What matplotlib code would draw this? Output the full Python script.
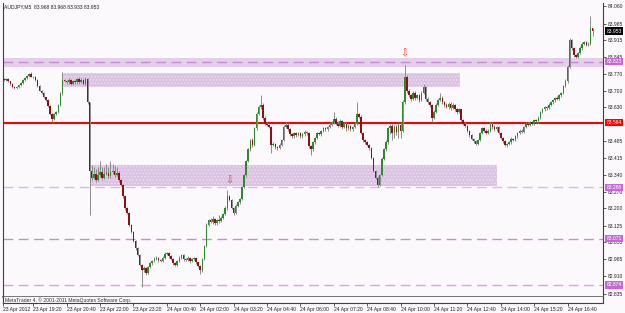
import matplotlib
matplotlib.use("Agg")
import matplotlib.pyplot as plt
import numpy as np
from matplotlib.patches import Rectangle

# ---------------- data ----------------
closes = [
 83.745, 83.750, 83.740, 83.728, 83.716, 83.711, 83.716, 83.724, 83.733, 83.745,
 83.754, 83.762, 83.771, 83.760, 83.758, 83.745, 83.720, 83.700, 83.690, 83.672,
 83.660, 83.635, 83.600, 83.580, 83.600, 83.610, 83.640, 83.690, 83.745, 83.740,
 83.735, 83.745, 83.730, 83.740, 83.735, 83.750, 83.738, 83.745, 83.730, 83.750,
 83.650, 83.360, 83.330, 83.345, 83.320, 83.340, 83.355, 83.330, 83.345, 83.350,
 83.335, 83.355, 83.360, 83.340, 83.350, 83.320, 83.300, 83.250, 83.200, 83.180,
 83.130, 83.100, 83.060, 83.030, 83.000, 82.960, 82.935, 82.945, 82.925, 82.950,
 82.965, 82.975, 82.985, 82.990, 82.980, 82.975, 82.990, 83.005, 83.010, 82.995,
 82.985, 82.965, 82.960, 82.975, 82.990, 83.000, 82.985, 82.980, 82.990, 82.975,
 82.985, 82.990, 82.970, 82.955, 82.935, 82.985, 83.040, 83.130, 83.150, 83.140,
 83.155, 83.135, 83.150, 83.145, 83.160, 83.175, 83.200, 83.250, 83.235, 83.200,
 83.180, 83.210, 83.225, 83.240, 83.290, 83.340, 83.400, 83.450, 83.490, 83.470,
 83.540, 83.600, 83.630, 83.640, 83.585, 83.560, 83.555, 83.545, 83.470, 83.475,
 83.460, 83.455, 83.470, 83.490, 83.545, 83.555, 83.535, 83.515, 83.505, 83.520,
 83.510, 83.520, 83.505, 83.515, 83.525, 83.520, 83.465, 83.450, 83.480, 83.500,
 83.520, 83.515, 83.530, 83.540, 83.535, 83.545, 83.555, 83.565, 83.580, 83.560,
 83.550, 83.570, 83.545, 83.560, 83.540, 83.550, 83.535, 83.545, 83.560, 83.600,
 83.590, 83.520, 83.490, 83.480, 83.470, 83.455, 83.415, 83.360, 83.330, 83.300,
 83.340, 83.410, 83.450, 83.480, 83.540, 83.550, 83.520, 83.545, 83.525, 83.555,
 83.530, 83.650, 83.760, 83.700, 83.680, 83.665, 83.690, 83.670, 83.680, 83.660,
 83.690, 83.715, 83.665, 83.650, 83.640, 83.585, 83.610, 83.640, 83.660, 83.670,
 83.650, 83.640, 83.630, 83.645, 83.625, 83.640, 83.620, 83.610, 83.620, 83.575,
 83.560, 83.550, 83.530, 83.510, 83.495, 83.485, 83.475, 83.490, 83.520, 83.540,
 83.530, 83.520, 83.530, 83.560, 83.545, 83.535, 83.545, 83.520, 83.500, 83.485,
 83.470, 83.475, 83.480, 83.495, 83.490, 83.505, 83.520, 83.530, 83.525, 83.545,
 83.560, 83.555, 83.565, 83.560, 83.575, 83.570, 83.585, 83.610, 83.620, 83.630,
 83.625, 83.640, 83.650, 83.660, 83.670, 83.665, 83.680, 83.690, 83.720, 83.740,
 83.800, 83.915, 83.880, 83.850, 83.845, 83.860, 83.880, 83.900, 83.905, 83.895,
 83.900, 83.968, 83.953,
]
first_open = 83.750

# upper / lower wick lengths in units of 0.001
wick_up = [
 3,3,4,3,3,2,3,3,3,4, 3,4,5,8,3,3,3,3,3,3, 3,4,3,3,4,3,5,4,34,6, 5,8,6,4,7,5,6,8,5,6,
 4,3,25,30,20,35,45,20,30,40, 25,45,30,20,25,10,5,3,4,3, 3,4,3,3,4,5,3,8,3,6, 5,4,6,5,4,3,6,8,5,4,
 4,3,6,5,7,5,3,4,6,3, 5,4,3,3,3,5,4,5,6,8, 10,5,6,20,6,5,8,28,6,4, 5,8,6,4,6,5,6,8,4,8,
 6,8,10,40,8,6,5,4,3,5, 4,3,6,5,8,10,6,5,4,6, 5,6,5,4,6,5,3,3,5,4, 6,5,4,5,4,5,6,5,30,6,
 10,8,6,5,8,6,5,6,8,50, 6,5,4,5,4,3,5,4,3,5, 5,6,5,8,6,10,6,8,10,8, 6,10,49,6,8,6,10,8,6,5,
 8,15,5,6,4,3,6,8,6,20, 6,5,8,6,5,8,5,6,5,4, 4,5,4,3,4,5,6,5,6,5, 6,5,8,6,5,8,5,4,5,4,
 3,4,5,6,5,6,5,6,8,5, 6,5,6,5,6,5,6,5,8,6, 5,6,5,6,5,8,6,5,6,10, 8,10,6,5,6,5,8,6,5,8,
 6,49,0,
]
wick_dn = [
 3,4,3,3,4,5,3,3,4,3, 3,3,3,4,5,3,4,3,5,4, 5,4,5,13,5,4,5,6,8,5, 6,5,6,5,6,5,8,6,5,4,
 5,189,8,6,10,5,6,8,6,5, 6,5,8,6,5,8,6,5,6,5, 5,6,5,6,5,8,70,6,8,5, 5,6,5,6,8,5,6,5,6,8,
 5,6,8,6,5,6,8,6,5,8, 6,5,8,6,15,5,6,5,6,5, 6,8,5,6,5,6,5,8,6,5, 8,6,5,6,5,6,8,5,6,8,
 5,6,5,6,8,6,5,6,35,6, 8,6,5,6,5,6,5,8,6,5, 6,5,6,5,6,8,8,24,6,5, 6,5,6,5,6,5,6,5,6,8,
 6,5,8,6,10,6,8,6,5,6, 5,6,8,6,5,8,6,5,6,10, 6,5,6,5,6,25,30,20,15,25, 30,5,6,8,6,8,6,10,6,8,
 6,5,8,6,10,18,6,5,6,5, 6,8,5,6,8,5,6,8,5,6, 5,6,5,6,5,8,6,5,6,5, 6,5,6,5,8,6,5,6,5,6,
 6,8,6,5,6,5,6,5,6,5, 6,5,6,5,6,5,6,5,6,5, 6,5,6,5,8,6,5,6,5,6, 6,5,6,8,6,5,6,5,6,5,
 6,5,20,
]

time_labels = ["23 Apr 2012", "23 Apr 19:20", "23 Apr 20:40", "23 Apr 22:00", "23 Apr 23:20",
               "24 Apr 00:40", "24 Apr 02:00", "24 Apr 03:20", "24 Apr 04:40",
               "24 Apr 06:00", "24 Apr 07:20", "24 Apr 08:40", "24 Apr 10:00",
               "24 Apr 11:20", "24 Apr 12:40", "24 Apr 14:00", "24 Apr 15:20",
               "24 Apr 16:40"]
price_ticks = [84.060, 83.985, 83.915, 83.845, 83.770, 83.700, 83.630,
               83.485, 83.415, 83.340, 83.270, 83.200, 83.125, 83.055,
               82.985, 82.910, 82.835]

red_level = 83.564
band_level = 83.823
band_top, band_bot = 83.838, 83.802
dashed_levels = [83.288, 83.071, 82.874]
box1 = dict(i0=28, i1=218.5, top=83.775, bot=83.715)
box2 = dict(i0=41, i1=236, top=83.384, bot=83.294)
arrows = [(107.8, 83.296), (191.7, 83.838)]
header = "AUDJPY,M5  83.968 83.968 83.933 83.953"

# -------------- derived --------------
assert len(closes) == len(wick_up) == len(wick_dn), (len(closes), len(wick_up), len(wick_dn))
n = len(closes)
opens = [first_open] + closes[:-1]
idx = np.arange(n)
o = np.array(opens)
c = np.array(closes)
hi = np.maximum(o, c) + np.array(wick_up) * 0.001
lo = np.minimum(o, c) - np.array(wick_dn) * 0.001

FONT = ['Liberation Sans', 'DejaVu Sans']
plt.rcParams['font.family'] = FONT
plt.rcParams['hatch.color'] = '#ece0f0'
plt.rcParams['hatch.linewidth'] = 0.6
FS = 3.6

W, H = 625, 313
fig = plt.figure(figsize=(W / 100, H / 100), dpi=100)
bg = '#fcf9fc'
fig.patch.set_facecolor(bg)

L = 3 / W
AW = 600 / W
XL = (-0.5, 287.0)
ax = fig.add_axes([L, (H - 297) / H, AW, (297 - 3) / H])
ax.set_facecolor(bg)
ax.set_xlim(*XL)
ax.set_ylim(82.8222, 84.0728)

purple_line = '#c98ad9'
purple_lab = '#c46ad6'
box_col = '#dcc3e4'

# band and boxes
ax.axhspan(band_bot, band_top, color='#e3cfe9', lw=0, zorder=1)
for b in (box1, box2):
    ax.add_patch(Rectangle((b['i0'], b['bot']), b['i1'] - b['i0'], b['top'] - b['bot'],
                           facecolor=box_col, edgecolor='#ebdff0', linewidth=0,
                           hatch='.....', zorder=1))

ax.axhline(band_level, color=purple_line, lw=1.0, ls=(0, (7, 4)), zorder=2)
for lv, colr in zip(dashed_levels, ['#e2b4ea', '#c98ad9', '#d9a2e4']):
    ax.axhline(lv, color=colr, lw=1.0, ls=(0, (7, 4)), zorder=2)
ax.axhline(red_level, color='#ff0000', lw=1.5, zorder=2)

# candles
up = c >= o
ax.vlines(idx, lo, hi, color='#8c8c8c', lw=0.7, zorder=3)
body_h = np.where(np.abs(c - o) < 0.002, 0.002, np.abs(c - o))
body_b = np.minimum(o, c)
ax.bar(idx[up], body_h[up], bottom=body_b[up], width=0.75, color='#2b8a2b',
       edgecolor='none', zorder=4)
ax.bar(idx[~up], body_h[~up], bottom=body_b[~up], width=0.75, color='#8e1010',
       edgecolor='none', zorder=4)

for ai, ap in arrows:
    ax.text(ai, ap, '\u21e9', color='#ff3030', fontsize=7, ha='center', va='bottom',
            family='DejaVu Sans', zorder=5)

# axes styling
ax.spines['top'].set_visible(False)
for s in ['left', 'right', 'bottom']:
    ax.spines[s].set_color('#404040')
    ax.spines[s].set_linewidth(0.8)
ax.spines['bottom'].set_color('#606060')
ax.spines['bottom'].set_linewidth(1.2)
ax.set_xticks([])
ax.yaxis.tick_right()
ax.set_yticks(price_ticks)
ax.set_yticklabels([f"{v:.3f}" for v in price_ticks], fontsize=FS, color='#202020')
ax.tick_params(axis='y', length=2, width=0.5, pad=1.5, colors='#202020')

# right-side labels
def side_label(val, face, txt_col='white'):
    ax.text(1.006, val, f"{val:.3f}", transform=ax.get_yaxis_transform(), fontsize=FS,
            color=txt_col, ha='left', va='center', zorder=6,
            bbox=dict(boxstyle='square,pad=0.25', facecolor=face, edgecolor='none'),
            clip_on=False)

side_label(83.953, '#000000')
side_label(band_level, purple_lab)
side_label(red_level, '#ff0000')
for lv in dashed_levels:
    side_label(lv, purple_lab)

ax.text(0.002, 0.997, header, transform=ax.transAxes, fontsize=FS, color='#202020',
        ha='left', va='top')

# sub window
sub = fig.add_axes([L, (H - 303) / H, AW, 6 / H])
sub.set_facecolor(bg)
sub.set_xlim(*XL)
sub.set_ylim(0, 1)
sub.set_yticks([])
sub.spines['top'].set_visible(False)
for s in ['left', 'right', 'bottom']:
    sub.spines[s].set_color('#404040')
    sub.spines[s].set_linewidth(0.8)
tick_pos = [XL[0]] + [16 * k - 2 for k in range(1, len(time_labels))]
sub.set_xticks(tick_pos)
sub.set_xticklabels(time_labels, fontsize=FS, color='#202020', ha='left')
sub.tick_params(axis='x', length=2, width=0.5, pad=1.0, colors='#202020')
sub.text(0.003, 0.5, "MetaTrader 4, \u00a9 2001-2011 MetaQuotes Software Corp.",
         transform=sub.transAxes, fontsize=FS, color='#303030', ha='left', va='center')

fig.savefig('out.png', dpi=100, facecolor=bg)
